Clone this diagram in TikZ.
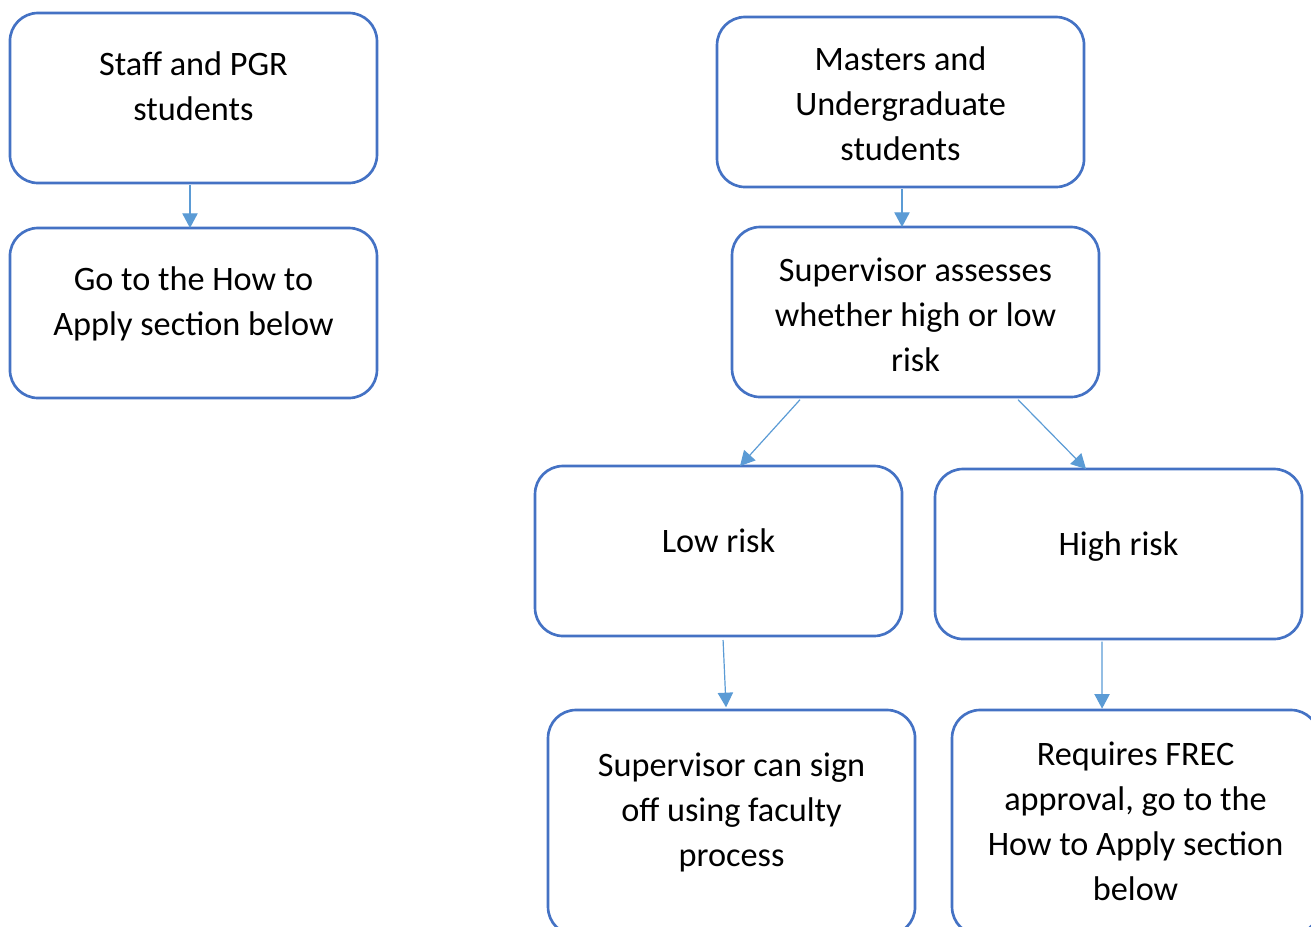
\documentclass[tikz,border=0pt]{standalone}
\usepackage{fontspec}
\setmainfont{Carlito}
\usepackage{tikz}
\usetikzlibrary{arrows.meta, positioning}

\definecolor{boxline}{HTML}{4472C4}
\definecolor{arrowline}{HTML}{5B9BD5}

\tikzset{
    flowbox/.style={draw=boxline, line width=2pt, rounded corners=21pt, minimum width=275.25pt, minimum height=127.5pt, align=center, inner sep=0pt, outer sep=0pt, font=\fontsize{25.7pt}{33.75pt}\selectfont},
    textpos/.style 2 args={text height=#1, text depth=#2},
    flowarrow/.style={draw=arrowline, line width=0.9pt, -{Triangle[length=11pt,width=11.5pt]}}
}

\begin{document}
\begin{tikzpicture}
        \path[use as bounding box, clip] (0,0) rectangle (983.25pt,-694.5pt);

        \node[flowbox, textpos={76.75pt}{43.25pt}] (staff) at (145.1pt,-73.5pt) {Staff and PGR\\students};
        \node[flowbox, textpos={76.75pt}{43.25pt}, below=33.75pt of staff] (goto) {Go to the How to\\Apply section below};

        \node[flowbox, textpos={103.75pt}{16.25pt}] (masters) at (675.4pt,-76.5pt) {Masters and\\Undergraduate\\students};
        \node[flowbox, textpos={104.5pt}{15.5pt}, below=30pt of masters, xshift=11.25pt] (assess) {Supervisor assesses\\whether high or low\\risk};
        \node[flowbox, textpos={61pt}{59pt}, below=51.75pt of assess, xshift=-147.75pt] (low) {Low risk};
        \node[flowbox, textpos={61pt}{59pt}, right=24.75pt of low, yshift=-2.25pt] (high) {High risk};
        \node[flowbox, textpos={92.9pt}{27.1pt}, minimum height=168.75pt, below=55.5pt of low, xshift=9.75pt] (signoff) {Supervisor can sign\\off using faculty\\process};
        \node[flowbox, textpos={118.35pt}{1.65pt}, minimum height=168.75pt, below=53.25pt of high, xshift=12.75pt] (frec) {Requires FREC\\approval, go to the\\How to Apply section\\below};

        \draw[flowarrow] ([xshift=-2.6pt,yshift=-1.5pt]staff.south) -- ([xshift=-2.6pt]staff.south |- goto.north);
        \draw[flowarrow] ([xshift=1.1pt,yshift=-1.5pt]masters.south) -- ([xshift=1.1pt]masters.south |- assess.north);
        \draw[flowarrow] ([xshift=51pt,yshift=-2pt]assess.south west) -- ([xshift=153.75pt]low.north west);
        \draw[flowarrow] ([xshift=-60.75pt,yshift=-2pt]assess.south east) -- ([xshift=113.25pt]high.north west);
        \draw[flowarrow] ([xshift=3.4pt,yshift=-3pt]low.south) -- ([xshift=-4.1pt,yshift=2pt]signoff.north);
        \draw[flowarrow] ([xshift=-12.4pt,yshift=-2pt]high.south) -- ([xshift=-25.1pt,yshift=1pt]frec.north);
    \end{tikzpicture}
\end{document}
